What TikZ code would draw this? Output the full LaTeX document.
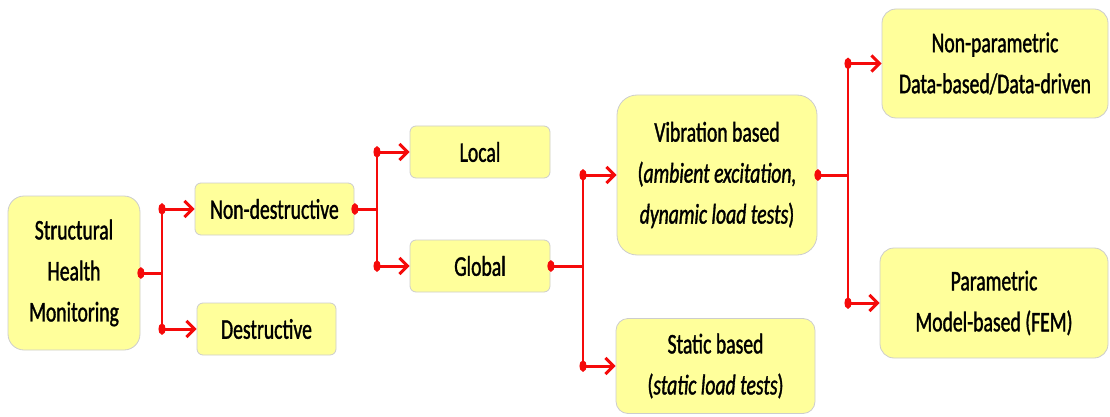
\documentclass[tikz,border=0pt]{standalone}
\usepackage{fontspec}
\setmainfont{Carlito}[FakeStretch=0.69, FakeBold=1.2]
\usetikzlibrary{arrows.meta, positioning}
\definecolor{boxfill}{RGB}{255,255,155}
\definecolor{boxline}{RGB}{205,205,205}
\definecolor{linkred}{RGB}{245,10,10}
\tikzset{
	x=1pt, y=-1pt, % picture measured in pixels, y grows downwards
	every node/.style={font=\fontsize{28.5}{41}\selectfont, align=center},
	box/.style={draw=boxline, fill=boxfill, line width=0.8pt, rounded corners=6pt, inner sep=0pt}, % the yellow boxes
	bigbox/.style={box, rounded corners=16pt},
	src/.style={draw=linkred, line width=3pt, {Ellipse[length=7pt,width=11pt]}-, shorten <=-3pt}, % line leaving a box
	trunk/.style={draw=linkred, line width=2.2pt}, % vertical bar
	branch/.style={draw=linkred, line width=3pt, {Ellipse[length=7pt,width=11pt]}-{Straight Barb[length=8pt,width=16pt]}, shorten <=-3.5pt}, % arrow into a box
}
\begin{document}
\begin{tikzpicture}
	\useasboundingbox (0,0) rectangle (1110,417);

	\node[bigbox, minimum width=132pt, minimum height=154pt] (shm) at (74,273) {Structural\\Health\\Monitoring};
	\node[box, minimum width=159pt, minimum height=52pt] (nd) at (274.5,209) {Non-destructive};
	\node[box, minimum width=139pt, minimum height=52pt] (ds) at (266.5,329) {Destructive};
	\node[box, minimum width=140pt, minimum height=52pt] (loc) at (480,152) {Local};
	\node[box, minimum width=140pt, minimum height=52pt] (glob) at (480,266) {Global};
	\node[bigbox, rounded corners=20pt, minimum width=200pt, minimum height=160pt] (vib) at (717,175)
		{Vibration based\\(\textit{ambient excitation,}\\\textit{dynamic load tests})};
	\node[bigbox, rounded corners=12pt, minimum width=199pt, minimum height=95pt] (stat) at (715.5,366)
		{Static based\\(\textit{static load tests})};
	\node[bigbox, rounded corners=14pt, minimum width=226pt, minimum height=109pt] (npar) at (995,63.5)
		{Non-parametric\\Data-based/Data-driven};
	\node[bigbox, rounded corners=14pt, minimum width=228pt, minimum height=110pt] (par) at (994,303)
		{Parametric\\Model-based (FEM)};

	% trunk positions
	\coordinate (t1) at (162,273);
	\coordinate (t2) at (377,210);
	\coordinate (t3) at (583,268);
	\coordinate (t4) at (848,180);

	\draw[src] (shm.east) -- (t1 |- shm.east);
	\draw[trunk] (t1 |- nd.west) -- (t1 |- ds.west);
	\draw[branch] (t1 |- nd.west) -- (nd.west);
	\draw[branch] (t1 |- ds.west) -- (ds.west);

	\draw[src] (nd.east) -- (t2 |- nd.east);
	\draw[trunk] (t2 |- loc.west) -- (t2 |- glob.west);
	\draw[branch] (t2 |- loc.west) -- (loc.west);
	\draw[branch] (t2 |- glob.west) -- (glob.west);

	\draw[src] (glob.east) -- (t3 |- glob.east);
	\draw[trunk] (t3 |- vib.west) -- (t3 |- stat.west);
	\draw[branch] (t3 |- vib.west) -- (vib.west);
	\draw[branch] (t3 |- stat.west) -- (stat.west);

	\draw[src] (vib.east) -- (t4 |- vib.east);
	\draw[trunk] (t4 |- npar.west) -- (t4 |- par.west);
	\draw[branch] (t4 |- npar.west) -- (npar.west);
	\draw[branch] (t4 |- par.west) -- (par.west);
\end{tikzpicture}
\end{document}
